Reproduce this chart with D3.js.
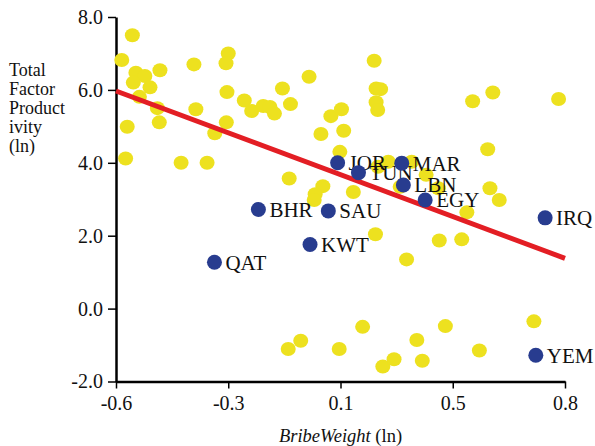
<!DOCTYPE html>
<html>
<head>
<meta charset="utf-8">
<script src="https://cdn.jsdelivr.net/npm/d3@7"></script>
<style>
	body { margin: 0; background: #fff; }
	text { font-family: "Liberation Serif", "Times New Roman", serif; fill: #111; }
</style>
</head>
<body>
<div id="main"></div>
<script>
// other countries (yellow), BribeWeight (ln) vs TFP (ln)
const otherX = [-0.549, -0.582, -0.538, -0.510, -0.546, -0.463, -0.494, -0.527, -0.471, -0.565,
	-0.465, -0.357, -0.250, -0.257, -0.254, -0.351, -0.256, -0.292, -0.200, -0.177,
	-0.141, -0.120, -0.106, -0.081, -0.056, 0.002, 0.039, 0.070, 0.103, 0.110,
	0.205, 0.211, 0.225, 0.211, 0.216, 0.512, 0.575, 0.780, 0.559, -0.570,
	-0.397, -0.316, -0.060, 0.045, 0.021, 0.018, 0.098, 0.140, 0.249, 0.217,
	0.322, 0.367, 0.286, 0.405, 0.566, 0.595, 0.494, 0.209, 0.408, 0.478,
	0.306, -0.063, -0.024, 0.096, 0.169, 0.232, 0.267, 0.338, 0.355, 0.427,
	0.533, 0.703];
const otherY = [7.50, 6.82, 6.47, 6.38, 6.20, 6.54, 6.07, 5.81, 5.50, 4.99,
	5.11, 6.70, 7.00, 6.73, 5.94, 5.47, 5.11, 4.81, 5.71, 5.42,
	5.56, 5.53, 5.35, 6.04, 5.61, 6.36, 4.79, 5.28, 5.47, 4.88,
	6.80, 6.04, 6.02, 5.66, 5.45, 5.69, 5.93, 5.75, 4.37, 4.12,
	4.00, 4.00, 3.57, 3.36, 3.14, 2.98, 4.30, 3.20, 4.03, 3.89,
	4.03, 3.67, 3.34, 3.30, 3.30, 2.98, 2.64, 2.04, 1.87, 1.90,
	1.35, -1.11, -0.88, -1.11, -0.50, -1.59, -1.39, -0.86, -1.43, -0.48,
	-1.15, -0.35];

// MENA countries (blue, labelled)
const menaNames = ["JOR", "TUN", "MAR", "LBN", "EGY", "IRQ", "BHR", "SAU", "KWT", "QAT", "YEM"];
const menaX = [0.091, 0.156, 0.291, 0.296, 0.364, 0.738, -0.156, 0.062, 0.005, -0.293, 0.709];
const menaY = [4.00, 3.73, 3.99, 3.39, 2.98, 2.49, 2.72, 2.68, 1.76, 1.27, -1.28];

// fitted line end points
const fitX = [-0.6, 0.8];
const fitY = [5.97, 1.38];

const xTicks = [-0.6, -0.25, 0.1, 0.45, 0.8];
const xTickLabels = ["-0.6", "-0.3", "0.1", "0.5", "0.8"];
const yTicks = [-2, 0, 2, 4, 6, 8];
const yTitle = ["Total", "Factor", "Product", "ivity", "(ln)"];

let margin = {top: 17, right: 30, bottom: 64.5, left: 116};
let width = 595 - margin.left - margin.right;
let height = 446 - margin.top - margin.bottom;

let x = d3.scaleLinear()
	.domain([-0.6, 0.8])
	.range([0, width]);

let y = d3.scaleLinear()
	.domain([-2, 8])
	.range([height, 0]);

let svg = d3.select("#main")
	.append("svg")
		.attr("width", 595)
		.attr("height", 446)
	.append("g")
		.attr("transform", `translate(${margin.left}, ${margin.top})`);

// axes
let xAxis = svg.append("g")
	.attr("transform", `translate(0,${height})`)
	.call(d3.axisBottom(x).tickValues(xTicks).tickFormat((d, i) => xTickLabels[i]).tickSize(7).tickSizeOuter(0));

let yAxis = svg.append("g")
	.call(d3.axisLeft(y).tickValues(yTicks).tickFormat(d => d.toFixed(1)).tickSize(8).tickSizeOuter(0));

[xAxis, yAxis].forEach(a => {
	a.select(".domain").attr("stroke", "#000").attr("stroke-width", 2.5);
	a.selectAll(".tick line").attr("stroke", "#000").attr("stroke-width", 1.5);
	a.selectAll(".tick text")
		.attr("font-family", "Liberation Serif, Times New Roman, serif")
		.attr("font-size", 20)
		.attr("fill", "#111");
});
xAxis.selectAll(".tick text").attr("y", 14);
yAxis.selectAll(".tick text").attr("x", -13);

// axis titles
svg.append("text")
	.attr("x", x(0.1))
	.attr("y", height + 60)
	.attr("text-anchor", "middle")
	.attr("font-size", 18.5)
	.html('<tspan font-style="italic">BribeWeight</tspan> (ln)');

svg.append("g")
	.selectAll("text")
	.data(yTitle)
	.enter()
	.append("text")
		.attr("x", 9 - margin.left)
		.attr("y", (d, i) => 59 + i * 19)
		.attr("font-size", 18)
		.text(d => d);

// other countries
svg.append("g")
	.selectAll("ellipse")
	.data(otherX.map((d, i) => [d, otherY[i]]))
	.enter()
	.append("ellipse")
		.attr("cx", d => x(d[0]))
		.attr("cy", d => y(d[1]))
		.attr("rx", 7.5)
		.attr("ry", 7)
		.style("fill", "#ede11f");

// fitted line
svg.append("line")
	.attr("x1", x(fitX[0]))
	.attr("y1", y(fitY[0]))
	.attr("x2", x(fitX[1]))
	.attr("y2", y(fitY[1]))
	.attr("stroke", "#e31e24")
	.attr("stroke-width", 5);

// MENA countries
let mena = svg.append("g")
	.selectAll("g")
	.data(menaNames.map((d, i) => ({name: d, x: menaX[i], y: menaY[i]})))
	.enter()
	.append("g");

mena.append("circle")
	.attr("cx", d => x(d.x))
	.attr("cy", d => y(d.y))
	.attr("r", 7.5)
	.style("fill", "#283c8f");

mena.append("text")
	.attr("x", d => x(d.x) + 11)
	.attr("y", d => y(d.y))
	.attr("dy", "0.35em")
	.attr("font-size", 21)
	.text(d => d.name);
</script>
</body>
</html>
